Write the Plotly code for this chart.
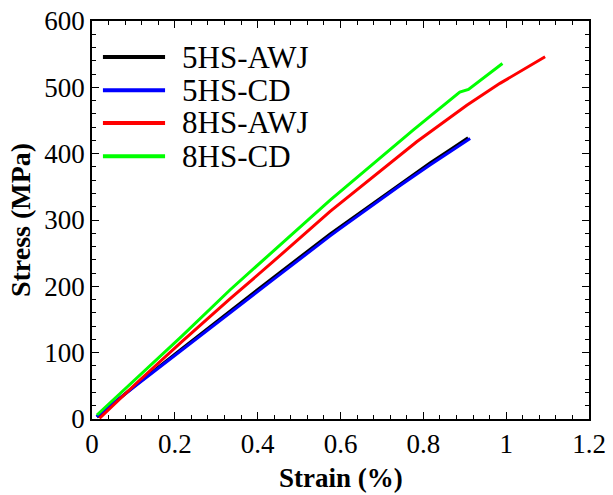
import plotly.graph_objects as go

# ---- data ----
series_names = ["5HS-AWJ", "5HS-CD", "8HS-AWJ", "8HS-CD"]
series_colors = ["#000000", "#0000ff", "#ff0000", "#00ff00"]

strain_5hs_awj = [0.012, 0.109, 0.217, 0.349, 0.435, 0.575, 0.70, 0.816, 0.87, 0.908]
stress_5hs_awj = [3, 53, 106, 171, 212, 279, 334, 386, 408, 424]

strain_5hs_cd = [0.011, 0.109, 0.217, 0.349, 0.435, 0.575, 0.599, 0.744, 0.816, 0.913]
stress_5hs_cd = [3.5, 52, 104, 168, 209, 276, 287, 352, 383, 423]

strain_8hs_awj = [0.018, 0.109, 0.217, 0.333, 0.435, 0.575, 0.784, 0.824, 0.905, 0.985, 1.049, 1.094]
stress_8hs_awj = [1, 55, 116.5, 181, 236, 313, 418, 436, 473, 506, 529, 546]

strain_8hs_cd = [0.012, 0.109, 0.217, 0.333, 0.435, 0.575, 0.776, 0.888, 0.909, 0.945, 0.991]
stress_8hs_cd = [6, 62, 125, 194.5, 251, 330, 436, 493, 497, 514, 536]

x_tickvals = [0, 0.2, 0.4, 0.6, 0.8, 1.0, 1.2]
x_ticktext = ["0", "0.2", "0.4", "0.6", "0.8", "1", "1.2"]
y_tickvals = [0, 100, 200, 300, 400, 500, 600]

xs = [strain_5hs_awj, strain_5hs_cd, strain_8hs_awj, strain_8hs_cd]
ys = [stress_5hs_awj, stress_5hs_cd, stress_8hs_awj, stress_8hs_cd]

FONT = "Liberation Serif, Times New Roman, serif"

fig = go.Figure()
for name, color, x, y in zip(series_names, series_colors, xs, ys):
    fig.add_trace(go.Scatter(x=x, y=y, mode="lines", name=name,
                             line=dict(color=color, width=3), showlegend=False))

# manual legend (long line samples as in the reference)
leg_y = [0.9095, 0.826, 0.744, 0.660]
for name, color, yy in zip(series_names, series_colors, leg_y):
    fig.add_shape(type="line", xref="paper", yref="paper",
                  x0=0.022, x1=0.147, y0=yy, y1=yy,
                  line=dict(color=color, width=4))
    fig.add_annotation(xref="paper", yref="paper", x=0.178, y=yy,
                       text=name, showarrow=False, xanchor="left", yanchor="middle",
                       font=dict(family=FONT, size=31, color="black"))

# x-axis title placed as in the reference
fig.add_annotation(xref="paper", yref="paper", x=0.5, y=-0.105,
                   text="<b>Strain (%)</b>", showarrow=False,
                   xanchor="center", yanchor="top",
                   font=dict(family=FONT, size=27, color="black"))

axis_common = dict(
    showline=True, linecolor="black", linewidth=1.5, mirror="ticks",
    ticks="inside", ticklen=7, tickwidth=1.2, tickcolor="black",
    showgrid=False, zeroline=False,
    tickfont=dict(family=FONT, size=27, color="black"),
)

fig.update_xaxes(range=[0, 1.2], tickvals=x_tickvals, ticktext=x_ticktext,
                 minor=dict(dtick=0.04, ticks="inside", ticklen=4, tickcolor="black", tickwidth=1),
                 **axis_common)
fig.update_yaxes(range=[0, 600], tickvals=y_tickvals,
                 minor=dict(dtick=20, ticks="inside", ticklen=4, tickcolor="black", tickwidth=1),
                 title=dict(text="<b>Stress (MPa)</b>", font=dict(family=FONT, size=28, color="black"), standoff=6),
                 **axis_common)

fig.update_layout(
    width=613, height=495,
    margin=dict(l=92, r=24, t=21, b=76, autoexpand=False),
    paper_bgcolor="white", plot_bgcolor="white",
    font=dict(family=FONT, color="black"),
)

fig.write_html("out.html", config={"displayModeBar": False},
               post_script="document.body.style.margin='0';document.body.style.overflow='hidden';")
